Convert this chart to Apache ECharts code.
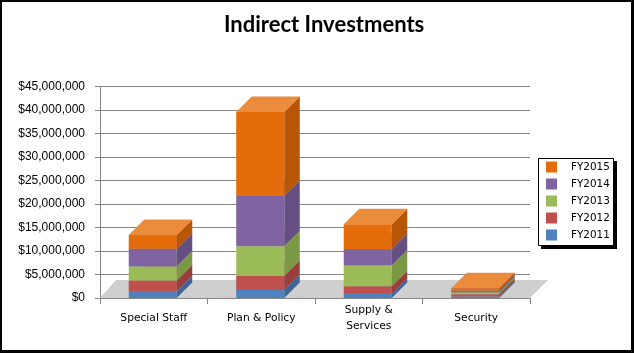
<!DOCTYPE html>
<html>
<head>
<meta charset="utf-8">
<script src="https://cdn.jsdelivr.net/npm/echarts@6/dist/echarts.min.js"></script>
<style>
  html, body { margin: 0; padding: 0; background: #fff; }
  .wrap { position: relative; width: 634px; height: 353px; }
  .canvas { width: 634px; height: 353px; }
  .frame {
    position: absolute; left: 0; top: 0; width: 634px; height: 353px;
    box-sizing: border-box; pointer-events: none;
    border-top: 2px solid #000; border-left: 2px solid #000;
    border-right: 3px solid #000; border-bottom: 3px solid #000;
  }
</style>
</head>
<body>
<div class="wrap">
  <div class="canvas" id="chart"></div>
  <div class="frame"></div>
</div>
<script>
const categories = ['Special Staff', 'Plan & Policy', 'Supply &\nServices', 'Security']
const fy2011 = [1500000, 1700000, 900000, 300000]
const fy2012 = [2200000, 3000000, 1600000, 500000]
const fy2013 = [3000000, 6300000, 4400000, 400000]
const fy2014 = [3800000, 10700000, 3500000, 400000]
const fy2015 = [2900000, 17900000, 5300000, 500000]
const seriesNames = ['FY2011', 'FY2012', 'FY2013', 'FY2014', 'FY2015']
const yTicks = { min: 0, max: 45000000, interval: 5000000 }

// front / side / top shades, Excel 2007 palette with orange
const shades = [
  ['#4F81BD', '#3E6797', '#6F98CB'],
  ['#C0504D', '#9A3E3C', '#CD716F'],
  ['#9BBB59', '#7B9944', '#B0CA7B'],
  ['#8064A2', '#654F82', '#9883B5'],
  ['#E46C0A', '#B85608', '#EB8B3C']
]
const DX = 15.5
const DY = -15.5

const chart = echarts.init(document.getElementById('chart'))

function barRenderer (idx) {
  return function (params, api) {
    const cat = api.value(0)
    const p0 = api.coord([cat, api.value(1)])
    const p1 = api.coord([cat, api.value(2)])
    const bw = api.size([1, 0])[0] * 0.447
    const x0 = p0[0] - bw / 2 - 1
    const x1 = x0 + bw
    const yb = p0[1]
    const yt = p1[1]
    const c = shades[idx]
    return {
      type: 'group',
      children: [
        {
          type: 'polygon',
          shape: { points: [[x1, yb], [x1 + DX, yb + DY], [x1 + DX, yt + DY], [x1, yt]] },
          style: { fill: c[1] }
        },
        {
          type: 'polygon',
          shape: { points: [[x0, yt], [x1, yt], [x1 + DX, yt + DY], [x0 + DX, yt + DY]] },
          style: { fill: c[2] }
        },
        {
          type: 'rect',
          shape: { x: x0, y: yt, width: bw, height: yb - yt },
          style: { fill: c[0] }
        }
      ]
    }
  }
}

const valueLists = [fy2011, fy2012, fy2013, fy2014, fy2015]
const base = categories.map(() => 0)
const series = [{
  type: 'custom',
  name: 'floor',
  silent: true,
  z: 1,
  data: [[0]],
  renderItem: (params) => {
    const cs = params.coordSys
    const l = cs.x
    const r = cs.x + cs.width
    const b = cs.y + cs.height
    return {
      type: 'polygon',
      shape: { points: [[l, b], [r, b], [r + 18, b - 18], [l + 16, b - 18]] },
      style: { fill: '#CFCFCF' }
    }
  }
}]
valueLists.forEach((list, i) => {
  const data = list.map((v, j) => {
    const lo = base[j]
    base[j] += v
    return [j, lo, base[j]]
  })
  series.push({
    type: 'custom',
    name: seriesNames[i],
    z: 3,
    itemStyle: { color: shades[i][0] },
    encode: { x: 0, y: [1, 2] },
    data: data,
    renderItem: barRenderer(i)
  })
})

const options = {
  animation: false,
  backgroundColor: '#fff',
  title: {
    text: 'Indirect Investments',
    left: 219,
    top: 9,
    textStyle: {
      fontFamily: 'Lato',
      fontWeight: 'bold',
      fontSize: 22,
      color: '#000'
    }
  },
  // legend box + its hard shadow
  graphic: [
    {
      type: 'rect',
      z: 0,
      silent: true,
      shape: { x: 541, y: 161, width: 76, height: 88 },
      style: { fill: '#000' }
    },
    {
      type: 'rect',
      z: 0,
      silent: true,
      shape: { x: 538.5, y: 158.5, width: 75, height: 87 },
      style: { fill: '#fff', stroke: '#000', lineWidth: 1 }
    }
  ],
  grid: {
    left: 100,
    right: 104,
    top: 86.5,
    bottom: 55
  },
  legend: {
    orient: 'vertical',
    left: 538,
    top: 158,
    data: seriesNames.slice().reverse(),
    icon: 'rect',
    itemWidth: 11,
    itemHeight: 11,
    itemGap: 5,
    padding: [3, 4, 4, 8],
    textStyle: {
      fontFamily: 'DejaVu Sans',
      fontSize: 10.4,
      lineHeight: 12,
      color: '#000',
      padding: [0, 0, 0, 9]
    }
  },
  xAxis: {
    type: 'category',
    data: categories,
    axisLine: { show: true, lineStyle: { color: '#868686' } },
    axisTick: { show: true, length: 6, lineStyle: { color: '#868686' } },
    axisLabel: {
      margin: 20,
      verticalAlign: 'middle',
      fontFamily: 'DejaVu Sans',
      fontSize: 10.7,
      lineHeight: 15.5,
      color: '#000'
    }
  },
  yAxis: {
    type: 'value',
    min: yTicks.min,
    max: yTicks.max,
    interval: yTicks.interval,
    axisLine: { show: true, lineStyle: { color: '#868686' } },
    axisTick: { show: true, length: 5, lineStyle: { color: '#868686' } },
    splitLine: { show: true, lineStyle: { color: '#868686' } },
    axisLabel: {
      margin: 15,
      fontFamily: 'Liberation Sans',
      fontSize: 12,
      color: '#000',
      formatter: (v) => '$' + String(v).replace(/\B(?=(\d{3})+(?!\d))/g, ',')
    }
  },
  series: series
}

chart.setOption(options)
</script>
</body>
</html>
